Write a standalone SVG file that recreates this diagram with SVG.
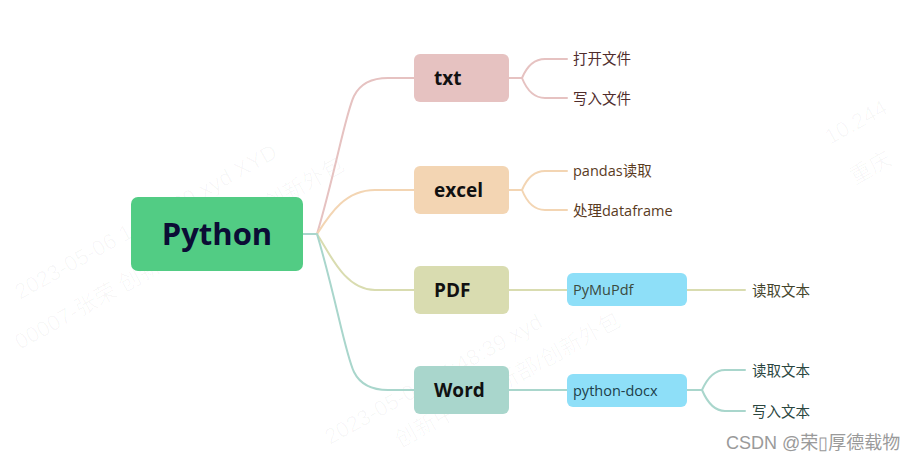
<svg xmlns="http://www.w3.org/2000/svg" width="918" height="462" viewBox="0 0 918 462">
<style>
.wm{font-family:"Liberation Sans","Noto Sans CJK SC",sans-serif;font-size:22px;fill:#000;fill-opacity:0.03}
.main{font-family:"Open Sans","Noto Sans",sans-serif;font-weight:700;font-size:31px;fill:#0b0d35}
.l1{font-family:"Open Sans","Noto Sans",sans-serif;font-weight:700;font-size:19px;fill:#111}
.l2{font-family:"Open Sans","Noto Sans","Noto Sans CJK SC",sans-serif;font-size:14.5px}
.con{fill:none;stroke-width:2;stroke-linecap:round}
.c-txt{stroke:#e6c2c1}.c-exc{stroke:#f3d5b3}.c-pdf{stroke:#d9dcb0}.c-word{stroke:#a9d6cc}
.blue{fill:#8edff8}
</style>
<rect width="918" height="462" fill="#ffffff"/>
<g id="watermark">
<text class="wm" transform="translate(20,300) rotate(-29)">2023-05-06  14:48:39  xyd  XYD</text>
<text class="wm" transform="translate(20,350) rotate(-29)">00007-张荣  创新中心/创新部/创新外包</text>
<text class="wm" transform="translate(330,445) rotate(-29)">2023-05-06  14:48:39  xyd</text>
<text class="wm" transform="translate(400,448) rotate(-29)">创新中心/创新部/创新外包</text>
<text class="wm" transform="translate(830,145) rotate(-29)">10.244</text>
<text class="wm" transform="translate(855,185) rotate(-29)">重庆</text>
</g>
<g id="connectors">
<path class="con c-word" d="M303,234 L317,234"/>
<path class="con c-txt" d="M317,234 C336,170 345,115 354,96 Q363,78 388,78 L414,78"/>
<path class="con c-exc" d="M317,234 C330,214 345,190 375,190 L414,190"/>
<path class="con c-pdf" d="M317,234 C330,254 345,290 375,290 L414,290"/>
<path class="con c-word" d="M317,234 C336,298 345,353 354,372 Q363,390 388,390 L414,390"/>
<path class="con c-txt" d="M509,78 L522,78 Q530,59 545,59 L567,59 M522,78 Q530,98 545,98 L567,98"/>
<path class="con c-exc" d="M509,190 L522,190 Q530,171 545,171 L567,171 M522,190 Q530,210 545,210 L567,210"/>
<path class="con c-pdf" d="M509,290 L567,290 M687,290 L745,290"/>
<path class="con c-word" d="M509,390 L567,390 M687,390 L702,390 Q711,370 725,370 L745,370 M702,390 Q711,411 725,411 L745,411"/>
</g>
<g id="python">
<rect x="131" y="197" width="172" height="74" rx="7" fill="#52cc84"/>
<text class="main" x="217" y="245" text-anchor="middle">Python</text>
</g>
<g id="txt">
<rect x="414" y="54" width="95" height="48" rx="6" fill="#e6c2c1"/>
<text class="l1" x="434" y="85">txt</text>
</g>
<g id="excel">
<rect x="414" y="166" width="95" height="48" rx="6" fill="#f3d5b3"/>
<text class="l1" x="434" y="197">excel</text>
</g>
<g id="pdf">
<rect x="414" y="266" width="95" height="48" rx="6" fill="#d9dcb0"/>
<text class="l1" x="434" y="297">PDF</text>
</g>
<g id="word">
<rect x="414" y="366" width="95" height="48" rx="6" fill="#a9d6cc"/>
<text class="l1" x="434" y="397">Word</text>
</g>
<g id="txt-open"><text class="l2" x="573" y="64" fill="#4f2c2c">打开文件</text></g>
<g id="txt-write"><text class="l2" x="573" y="104" fill="#4f2c2c">写入文件</text></g>
<g id="excel-pandas"><text class="l2" x="573" y="176" fill="#5a3b1e">pandas读取</text></g>
<g id="excel-df"><text class="l2" x="573" y="216" fill="#5a3b1e">处理dataframe</text></g>
<g id="pymupdf">
<rect class="blue" x="567" y="273" width="120" height="33" rx="6"/>
<text class="l2" x="573" y="295" fill="#3b4a3e">PyMuPdf</text>
</g>
<g id="pdf-read"><text class="l2" x="752" y="296" fill="#45452c">读取文本</text></g>
<g id="python-docx">
<rect class="blue" x="567" y="374" width="120" height="33" rx="6"/>
<text class="l2" x="573" y="396" fill="#20404a">python-docx</text>
</g>
<g id="word-read"><text class="l2" x="752" y="376" fill="#2b4640">读取文本</text></g>
<g id="word-write"><text class="l2" x="752" y="417" fill="#2b4640">写入文本</text></g>
<g id="csdn">
<text x="726" y="449" font-family="'Liberation Sans','Noto Sans CJK SC',sans-serif" font-size="18" fill="#9a9a9a">CSDN @荣▯厚德载物</text>
</g>
</svg>
